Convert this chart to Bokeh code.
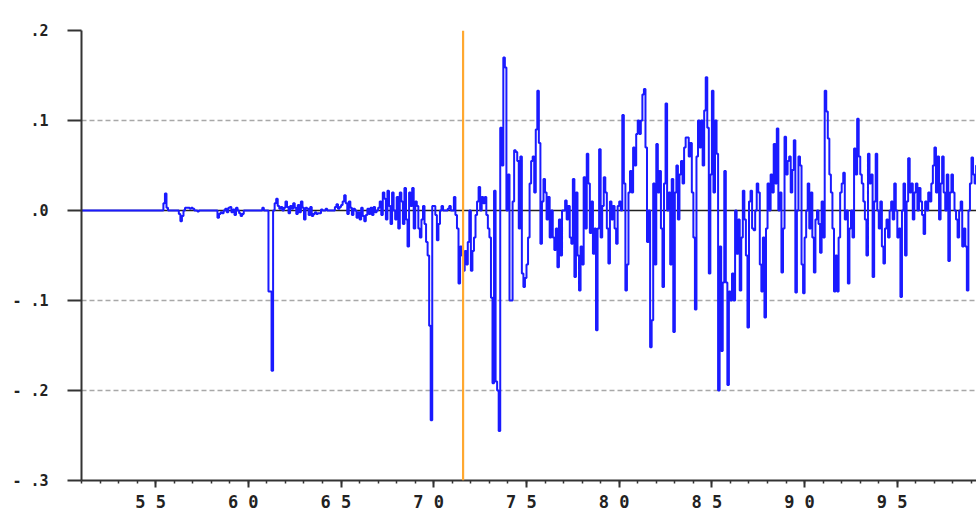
from bokeh.plotting import figure
from bokeh.models import Range1d, FixedTicker, Span
from bokeh.embed import file_html
from bokeh.resources import INLINE

# ---- data: monthly values, one list per year (Jan..Dec) ----
lead_year = 1951.0
series_start = 1955.0
event_year = 1971.58

y1955 = [0, 0, 0, 0, 0, 0.008, 0.019, 0.003, 0, 0, 0, 0]
y1956 = [0, 0, 0, -0.004, -0.012, -0.006, 0, 0.003, 0.003, 0.003, 0.002, 0.003]
y1957 = [0.002, 0, 0, -0.001, 0, 0, 0, 0, 0, 0, 0, 0]
y1958 = [0, 0, 0, 0, -0.008, -0.004, -0.002, -0.003, 0, 0.002, -0.002, 0.003]
y1959 = [0.004, -0.002, 0.001, -0.005, 0.003, 0, -0.003, -0.006, -0.004, 0, 0, 0]
y1960 = [0, 0, 0, 0, 0, 0, 0, 0, 0, 0.003, 0, 0]
y1961 = [0, -0.09, -0.09, -0.178, 0, 0.008, 0.013, 0.005, 0.002, 0.004, 0, 0.003]
y1962 = [0.01, 0.004, -0.003, 0.005, 0.002, 0.008, 0.003, -0.004, 0.006, -0.002, 0.01, 0.003]
y1963 = [-0.01, 0.003, 0.002, -0.005, 0.004, -0.006, -0.004, -0.002, -0.004, -0.003, -0.003, 0.001]
y1964 = [0, 0, 0.002, 0, 0, 0, 0, 0, 0.004, 0.007, 0.002, 0.004]
y1965 = [0.006, 0.01, 0.017, 0.008, -0.004, 0.01, 0.003, -0.005, 0.002, 0, -0.008, -0.002]
y1966 = [-0.01, 0.003, -0.006, -0.012, -0.005, 0.002, -0.004, 0.003, -0.005, 0.004, -0.002, 0]
y1967 = [0.003, 0.01, -0.005, 0.02, 0.013, -0.01, 0.022, 0.005, -0.015, 0.02, 0, -0.01]
y1968 = [0.015, -0.02, 0.02, 0.01, -0.015, 0.025, -0.01, -0.04, 0.02, 0.005, 0.025, -0.02]
y1969 = [0.01, 0.005, -0.02, -0.03, -0.01, 0.005, -0.015, -0.035, -0.05, -0.128, -0.233, 0.005]
y1970 = [0.005, -0.005, -0.033, -0.015, 0, 0.005, 0, 0, 0, 0.002, 0.005, 0]
y1971 = [0, 0.015, -0.005, -0.02, -0.081, -0.04, -0.05, -0.067, -0.045, -0.06, -0.035, 0]
y1972 = [-0.067, -0.045, -0.03, -0.005, 0.01, 0.026, 0, 0.015, 0.008, 0.015, -0.005, -0.02]
y1973 = [-0.03, -0.097, -0.192, 0.022, -0.19, -0.2, -0.245, 0.092, 0.05, 0.17, 0.159, 0]
y1974 = [0.04, -0.1, -0.1, 0.01, 0.067, 0.065, 0.055, -0.02, 0.06, -0.07, -0.085, -0.075]
y1975 = [-0.06, -0.03, 0.03, 0.055, 0.06, 0.02, 0.09, 0.133, 0.075, -0.037, 0.01, 0.035]
y1976 = [0.02, -0.01, 0.015, -0.03, 0, -0.03, -0.044, -0.02, -0.063, -0.01, -0.05, 0]
y1977 = [0, 0.011, -0.01, 0.005, -0.03, -0.037, 0.035, -0.074, 0.02, -0.05, -0.089, -0.04]
y1978 = [-0.06, 0.037, -0.02, 0.063, 0.03, -0.025, 0.01, -0.048, -0.02, -0.133, -0.02, 0.068]
y1979 = [-0.03, 0.005, 0.037, 0.02, -0.02, -0.059, 0.01, -0.01, 0.005, -0.02, -0.037, 0.005]
y1980 = [0.01, 0, 0.106, 0.03, -0.089, -0.06, 0.02, 0.044, 0.02, 0.07, 0.05, 0.085]
y1981 = [0.1, 0.085, 0.1, 0.129, 0.135, 0.07, -0.035, 0, -0.152, -0.122, 0.03, -0.06]
y1982 = [0.074, 0.02, 0.044, -0.02, -0.085, 0.03, 0.119, 0, 0.02, -0.06, 0.035, -0.135]
y1983 = [0.02, 0.05, -0.01, 0.04, 0.055, 0.03, 0.07, 0.081, 0.081, 0.06, 0.075, 0.02]
y1984 = [-0.03, -0.11, 0.06, 0.1, 0.07, 0.1, 0.05, 0.111, 0.148, 0.092, -0.07, 0.04]
y1985 = [0.133, 0.02, 0.1, 0.063, -0.2, -0.04, -0.156, -0.08, 0.044, -0.08, -0.194, -0.09]
y1986 = [-0.1, -0.07, -0.1, 0, -0.048, -0.01, -0.089, -0.03, 0.022, -0.01, -0.05, -0.13]
y1987 = [0.01, 0.022, -0.02, -0.022, 0, 0.03, 0.02, -0.06, -0.09, -0.03, -0.119, -0.02]
y1988 = [0.03, 0, 0.04, 0.02, 0.074, 0.03, 0.091, 0, 0.02, -0.069, -0.02, 0.082]
y1989 = [0.04, 0.055, 0.06, 0.02, 0.045, 0.078, -0.091, 0, 0.06, 0.05, -0.06, -0.092]
y1990 = [-0.03, 0, 0.03, -0.02, 0.02, -0.03, -0.069, -0.01, 0, -0.015, -0.047, 0.01]
y1991 = [-0.03, 0.133, 0.11, 0.08, 0.04, 0.02, -0.02, -0.09, -0.05, -0.09, -0.03, 0.02]
y1992 = [0.03, 0.042, -0.01, 0, -0.081, -0.02, 0, -0.03, 0.069, 0.04, 0.102, 0.06]
y1993 = [0.04, 0.03, 0.01, -0.01, -0.05, 0.063, 0.03, 0.04, -0.074, 0.01, 0.063, 0]
y1994 = [-0.02, 0.01, -0.04, -0.059, -0.02, -0.01, -0.03, 0, 0.01, -0.01, 0.03, 0]
y1995 = [-0.03, -0.02, -0.096, 0, 0.03, -0.05, 0.01, 0.058, 0.02, 0.03, -0.01, 0.02]
y1996 = [0.03, 0, 0.025, 0.01, -0.005, -0.026, 0.01, 0, 0.02, 0.01, 0.03, 0.05]
y1997 = [0.07, 0.02, 0.06, -0.01, 0.03, 0.06, 0.02, 0, 0.04, -0.056, 0.02, 0.04]
y1998 = [0.02, 0, -0.01, -0.03, 0, 0.01, -0.04, -0.02, -0.04, -0.089, 0, 0.03]
y1999 = [0.059, 0.04, 0.03, 0.05, 0.02]

x_major = [1955, 1960, 1965, 1970, 1975, 1980, 1985, 1990, 1995]
x_minor = list(range(1951, 2000))
x_labels = ["5 5", "6 0", "6 5", "7 0", "7 5", "8 0", "8 5", "9 0", "9 5"]
y_ticks = [-0.3, -0.2, -0.1, 0.0, 0.1, 0.2]
y_labels = ["- .3", "- .2", "- .1", ".0", ".1", ".2"]
grid_levels = [-0.2, -0.1, 0.1]

blocks = [y1955, y1956, y1957, y1958, y1959, y1960, y1961, y1962, y1963, y1964,
          y1965, y1966, y1967, y1968, y1969, y1970, y1971, y1972, y1973, y1974,
          y1975, y1976, y1977, y1978, y1979, y1980, y1981, y1982, y1983, y1984,
          y1985, y1986, y1987, y1988, y1989, y1990, y1991, y1992, y1993, y1994,
          y1995, y1996, y1997, y1998, y1999]
vals = [v for b in blocks for v in b]
xs = [lead_year] + [series_start + i / 12.0 for i in range(len(vals))]
ys = [0.0] + vals

p = figure(width=976, height=514, output_backend="svg", toolbar_location=None,
           x_range=Range1d(1951.0, 1999.27), y_range=Range1d(-0.3, 0.2),
           min_border_left=81, min_border_right=0, min_border_top=30, min_border_bottom=34)
p.outline_line_color = None
p.background_fill_color = "white"

# grid
p.xgrid.visible = False
p.ygrid.ticker = FixedTicker(ticks=grid_levels)
p.ygrid.grid_line_color = "#a8a8a8"
p.ygrid.grid_line_dash = "5 3"
p.ygrid.grid_line_width = 1.5

zero = Span(location=0, dimension="width", line_color="#222222", line_width=1.5, level="underlay")
p.add_layout(zero)

p.step(xs, ys, mode="after", line_color="#1a1aff", line_width=2)

event = Span(location=event_year, dimension="height", line_color="#ffa830", line_width=2.2)
p.add_layout(event)

font = "DejaVu Sans Mono"
# x axis
p.xaxis.ticker = FixedTicker(ticks=x_major, minor_ticks=x_minor)
p.xaxis.major_label_overrides = {t: lab + "\u00a0" for t, lab in zip(x_major, x_labels)}
p.xaxis.axis_line_width = 2
p.xaxis.axis_line_color = "#333333"
p.xaxis.major_tick_line_width = 2
p.xaxis.major_tick_line_color = "#333333"
p.xaxis.minor_tick_line_width = 1.5
p.xaxis.minor_tick_line_color = "#333333"
p.xaxis.major_tick_in = 0
p.xaxis.major_tick_out = 7
p.xaxis.minor_tick_in = 0
p.xaxis.minor_tick_out = 3
p.xaxis.major_label_standoff = 4
p.xaxis.major_label_text_font = font
p.xaxis.major_label_text_font_style = "bold"
p.xaxis.major_label_text_font_size = "17px"
p.xaxis.major_label_text_color = "#222222"

# y axis
p.yaxis.ticker = FixedTicker(ticks=y_ticks)
p.yaxis.major_label_overrides = {t: lab for t, lab in zip(y_ticks, y_labels)}
p.yaxis.axis_line_width = 2
p.yaxis.axis_line_color = "#333333"
p.yaxis.major_tick_line_width = 2
p.yaxis.major_tick_line_color = "#333333"
p.yaxis.minor_tick_line_color = None
p.yaxis.major_tick_in = 0
p.yaxis.major_tick_out = 14
p.yaxis.major_label_standoff = 19
p.yaxis.major_label_text_font = font
p.yaxis.major_label_text_font_style = "bold"
p.yaxis.major_label_text_font_size = "15px"
p.yaxis.major_label_text_color = "#222222"

open("out.html", "w").write(file_html(p, INLINE))
